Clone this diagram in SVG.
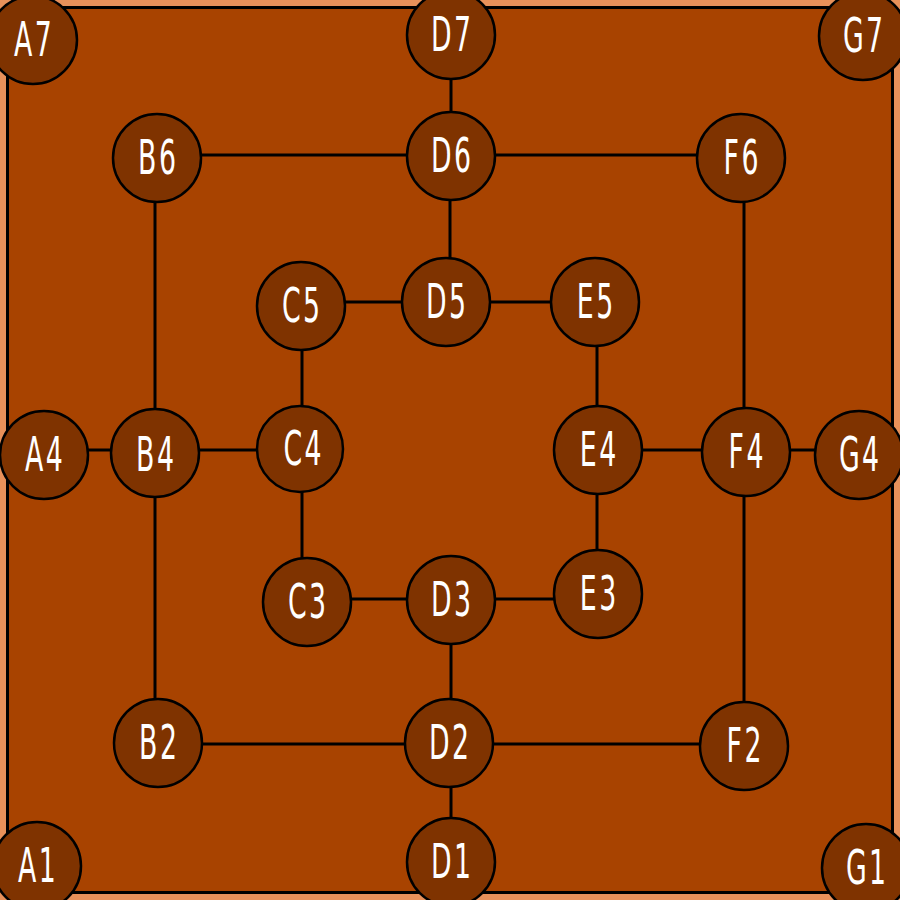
<svg xmlns="http://www.w3.org/2000/svg" width="900" height="900" viewBox="0 0 900 900">
<style>
.n circle{fill:#7F3300;stroke:#000;stroke-width:2.5}
.n text{fill:#fff;font-family:"DejaVu Sans Condensed","DejaVu Sans",sans-serif;font-size:48px;text-anchor:middle;letter-spacing:4px}
.c line{stroke:#000;stroke-width:3}
</style>
<rect x="0" y="0" width="900" height="900" fill="#E8915A"/>
<rect x="7.5" y="7.5" width="885" height="885" fill="#A84300" stroke="#000" stroke-width="3"/>
<g class="c" id="connectors">
<line x1="451" y1="35" x2="451" y2="156"/>
<line x1="157" y1="155" x2="741" y2="155"/>
<line x1="155" y1="158" x2="155" y2="743"/>
<line x1="744" y1="158" x2="744" y2="746"/>
<line x1="450" y1="156" x2="450" y2="302"/>
<line x1="301" y1="302" x2="595" y2="302"/>
<line x1="302" y1="306" x2="302" y2="602"/>
<line x1="597" y1="302" x2="597" y2="594"/>
<line x1="307" y1="599" x2="598" y2="599"/>
<line x1="451" y1="600" x2="451" y2="862"/>
<line x1="158" y1="744" x2="744" y2="744"/>
<line x1="44" y1="450" x2="302" y2="450"/>
<line x1="598" y1="450" x2="859" y2="450"/>
</g>
<g class="n" id="A7" transform="translate(33,40)"><circle r="44"/><text transform="scale(0.62,1)" x="2" y="16">A7</text></g>
<g class="n" id="D7" transform="translate(451,35)"><circle r="44"/><text transform="scale(0.62,1)" x="2" y="16">D7</text></g>
<g class="n" id="G7" transform="translate(863,36)"><circle r="44"/><text transform="scale(0.62,1)" x="2" y="16">G7</text></g>
<g class="n" id="B6" transform="translate(157,158)"><circle r="44"/><text transform="scale(0.62,1)" x="2" y="16">B6</text></g>
<g class="n" id="D6" transform="translate(451,156)"><circle r="44"/><text transform="scale(0.62,1)" x="2" y="16">D6</text></g>
<g class="n" id="F6" transform="translate(741,158)"><circle r="44"/><text transform="scale(0.62,1)" x="2" y="16">F6</text></g>
<g class="n" id="C5" transform="translate(301,306)"><circle r="44"/><text transform="scale(0.62,1)" x="2" y="16">C5</text></g>
<g class="n" id="D5" transform="translate(446,302)"><circle r="44"/><text transform="scale(0.62,1)" x="2" y="16">D5</text></g>
<g class="n" id="E5" transform="translate(595,302)"><circle r="44"/><text transform="scale(0.62,1)" x="2" y="16">E5</text></g>
<g class="n" id="A4" transform="translate(44,455)"><circle r="44"/><text transform="scale(0.62,1)" x="2" y="16">A4</text></g>
<g class="n" id="B4" transform="translate(155,453)"><circle r="44"/><text transform="scale(0.62,1)" x="2" y="18">B4</text></g>
<g class="n" id="C4" transform="translate(300,449)"><circle r="43"/><text transform="scale(0.62,1)" x="6" y="16">C4</text></g>
<g class="n" id="E4" transform="translate(598,450)"><circle r="44"/><text transform="scale(0.62,1)" x="2" y="16">E4</text></g>
<g class="n" id="F4" transform="translate(746,452)"><circle r="44"/><text transform="scale(0.62,1)" x="2" y="16">F4</text></g>
<g class="n" id="G4" transform="translate(859,455)"><circle r="44"/><text transform="scale(0.62,1)" x="2" y="16">G4</text></g>
<g class="n" id="C3" transform="translate(307,602)"><circle r="44"/><text transform="scale(0.62,1)" x="2" y="16">C3</text></g>
<g class="n" id="D3" transform="translate(451,600)"><circle r="44"/><text transform="scale(0.62,1)" x="2" y="16">D3</text></g>
<g class="n" id="E3" transform="translate(598,594)"><circle r="44"/><text transform="scale(0.62,1)" x="2" y="16">E3</text></g>
<g class="n" id="B2" transform="translate(158,743)"><circle r="44"/><text transform="scale(0.62,1)" x="2" y="16">B2</text></g>
<g class="n" id="D2" transform="translate(449,743)"><circle r="44"/><text transform="scale(0.62,1)" x="2" y="16">D2</text></g>
<g class="n" id="F2" transform="translate(744,746)"><circle r="44"/><text transform="scale(0.62,1)" x="2" y="16">F2</text></g>
<g class="n" id="A1" transform="translate(37,866)"><circle r="44"/><text transform="scale(0.62,1)" x="2" y="16">A1</text></g>
<g class="n" id="D1" transform="translate(451,862)"><circle r="44"/><text transform="scale(0.62,1)" x="2" y="16">D1</text></g>
<g class="n" id="G1" transform="translate(866,868)"><circle r="44"/><text transform="scale(0.62,1)" x="2" y="16">G1</text></g>
</svg>
